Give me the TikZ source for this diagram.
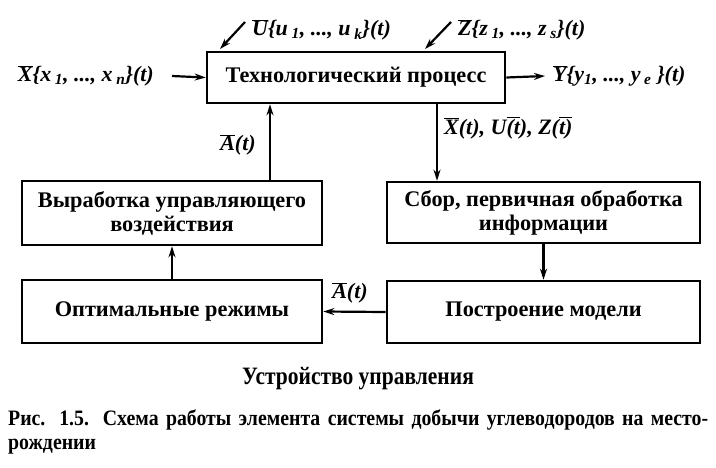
\documentclass[tikz,border=0pt]{standalone}
\usepackage{fontspec}
\setmainfont{Liberation Serif}
\newfontfamily\condfont[FakeStretch=0.86]{Liberation Serif}
\newfontfamily\capfont[FakeStretch=0.9]{Liberation Serif}
\usetikzlibrary{arrows.meta}
\newcommand{\ovl}[1]{\ensuremath{\overline{\mbox{#1}}}}
\begin{document}
\begin{tikzpicture}[x=1pt,y=-1pt,
  box/.style={draw,line width=2.6pt,inner sep=0pt,align=center,font=\fontsize{22.3}{24}\selectfont\bfseries},
  arr/.style={line width=2.2pt,-{Stealth[length=11pt,width=7pt]}},
  lbl/.style={font=\fontsize{22}{24}\selectfont\bfseries\itshape,inner sep=0pt}]
\fill[white] (0,0) rectangle (716,467);
\useasboundingbox (0,0) rectangle (716,467);
\node[box,minimum width=298pt,minimum height=51pt] (tp) at (356,77.5) {Технологический процесс};
\node[box,minimum width=300pt,minimum height=64pt] (vyr) at (172,213) {Выработка управляющего\\воздействия};
\node[box,minimum width=300pt,minimum height=63pt] (opt) at (172,311.5) {Оптимальные режимы};
\node[box,minimum width=313pt,minimum height=61pt] (sbor) at (543.5,212.5) {Сбор, первичная обработка\\информации};
\node[box,minimum width=313pt,minimum height=62pt] (post) at (543.5,312) {Построение модели};
% inputs/outputs
\node[lbl,anchor=east] (xl) at (154,76) {\ovl{X}\{x\,\textsubscript{1}, ..., x\,\textsubscript{n}\}(t)};
\coordinate (xs) at (172,76);
\draw[arr] (xs) -- (tp.west);
\coordinate (ys) at (545,76);
\draw[arr] (tp.east) -- (ys);
\node[lbl,anchor=west] (yl) at (553,76) {\ovl{Y}\{y\textsubscript{1}, ..., y\,\textsubscript{e} \}(t)};
\coordinate (us) at (245,22);
\coordinate (ue) at (220,49);
\draw[arr] (us) -- (ue);
\node[lbl,anchor=west] (ul) at (252,30) {\ovl{U}\{u\,\textsubscript{1}, ..., u\,\textsubscript{k}\}(t)};
\coordinate (zs) at (451,22);
\coordinate (ze) at (425,49);
\draw[arr] (zs) -- (ze);
\node[lbl,anchor=west] (zl) at (458,30) {\ovl{Z}\{z\,\textsubscript{1}, ..., z\,\textsubscript{s}\}(t)};
% feedback
\coordinate (c1) at (270,0);
\draw[arr] (c1 |- vyr.north) -- (c1 |- tp.south);
\node[lbl] (a1) at (238,145) {\ovl{A}(t)};
\coordinate (c2) at (437,0);
\draw[arr] (c2 |- tp.south) -- (c2 |- sbor.north);
\node[lbl,anchor=west] (xuz) at (444,128) {\ovl{X}(t), U\ovl{(t}), Z(\ovl{t)}};
\draw[arr] (sbor.south -| post.north) -- (post.north);
\draw[arr] (post.west) -- (opt.east);
\node[lbl] (a2) at (350,293) {\ovl{A}(t)};
\draw[arr] (opt.north) -- (vyr.south);
% captions
\node[font=\fontsize{25}{27}\selectfont\bfseries\condfont,inner sep=0pt] (dev) at (358,379) {Устройство управления};
\node[font=\fontsize{22}{24}\selectfont\bfseries\capfont,inner sep=0pt,anchor=north west,text width=700pt,align=justify] (cap) at (8,410)
 {Рис. 1.5. Схема работы элемента системы добычи углеводородов на место-\linebreak рождении};
\end{tikzpicture}
\end{document}
